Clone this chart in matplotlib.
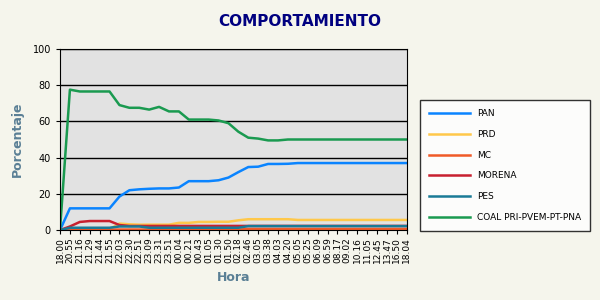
import matplotlib
matplotlib.use('Agg')
import matplotlib.pyplot as plt

horas = ['18.00', '20.55', '21.16', '21.29', '21.44', '21.55', '22.03', '22.30', '22.51',
         '23.09', '23.31', '23.51', '00.04', '00.21', '00.43', '01.05', '01.30', '01.50',
         '02.18', '02.46', '03.05', '03.38', '04.03', '04.20', '05.05', '05.25', '06.09',
         '06.59', '08.17', '09.02', '10.16', '11.05', '12.45', '13.47', '16.50', '18.04']

pan = [0, 12, 12, 12, 12, 12, 18.5, 22, 22.5, 22.8, 23, 23, 23.5, 27, 27, 27, 27.5, 29,
       32, 34.8, 35, 36.5, 36.5, 36.6, 37, 37, 37, 37, 37, 37, 37, 37, 37, 37, 37, 37]
prd = [0, 0.5, 0.5, 0.5, 0.5, 0.5, 3.6, 3.2, 3, 3, 3, 3, 4, 4, 4.5, 4.5, 4.6, 4.6,
       5.4, 6, 6, 6, 6, 6, 5.6, 5.6, 5.6, 5.6, 5.6, 5.6, 5.6, 5.6, 5.6, 5.6, 5.6, 5.6]
mc = [0, 0.3, 0.3, 0.3, 0.3, 0.3, 0.3, 0.3, 0.3, 0.3, 0.3, 0.3, 0.3, 0.3, 0.3, 0.3, 0.3, 0.3,
      0.3, 0.6, 0.6, 0.6, 0.6, 0.6, 0.6, 0.6, 0.6, 0.6, 0.6, 0.6, 0.6, 0.6, 0.6, 0.6, 0.6, 0.6]
morena = [0, 2, 4.5, 5, 5, 5, 2.8, 2.3, 2.3, 2.3, 2.3, 2.3, 2.3, 2.3, 2.3, 2.3, 2.3, 2.3,
          2.3, 2.3, 2.3, 2.3, 2.3, 2.3, 2.3, 2.3, 2.3, 2.3, 2.3, 2.3, 2.3, 2.3, 2.3, 2.3, 2.3, 2.3]
pes = [0, 1.3, 1.3, 1.3, 1.3, 1.3, 2, 2, 2, 1.3, 1.3, 1.3, 1.3, 1.3, 1.3, 1.3, 1.3, 1.3,
       1.3, 2.2, 2.2, 2.2, 2.2, 2.2, 2.2, 2.2, 2.2, 2.2, 2.2, 2.2, 2.2, 2.2, 2.2, 2.2, 2.2, 2.2]
coal = [0, 77.5, 76.5, 76.5, 76.5, 76.5, 69, 67.5, 67.5, 66.5, 68, 65.5, 65.5, 61, 61, 61,
        60.5, 59, 54.3, 51, 50.5, 49.5, 49.5, 50, 50, 50, 50, 50, 50, 50, 50, 50, 50, 50, 50, 50]

series = [('PAN', pan, '#0a84ff'), ('PRD', prd, '#ffc84a'), ('MC', mc, '#f05a28'),
          ('MORENA', morena, '#c8202f'), ('PES', pes, '#1a7a96'),
          ('COAL PRI-PVEM-PT-PNA', coal, '#1a9a50')]

bg = '#f5f5ec'
fig = plt.figure(figsize=(6, 3), dpi=100, facecolor=bg)
ax = fig.add_axes([0.1, 0.233, 0.578, 0.604])
ax.set_facecolor('#e2e2e2')

x = list(range(len(horas)))
for name, vals, col in series:
    ax.plot(x, vals, color=col, lw=1.8, label=name)

ax.set_xlim(0, len(horas) - 1)
ax.set_ylim(0, 100)
ax.set_yticks(range(0, 101, 20))
ax.yaxis.grid(True, color='black', lw=1)
ax.set_axisbelow(True)
ax.set_xticks(x)
ax.set_xticklabels(horas, rotation=90, fontsize=6.5)
ax.tick_params(axis='y', labelsize=7, length=3)
ax.tick_params(axis='x', length=3, pad=2)
for s in ax.spines.values():
    s.set_color('black')

lab_col = '#5a7f95'
ax.set_ylabel('Porcentaje', color=lab_col, fontsize=9, fontweight='bold', labelpad=6)
ax.set_xlabel('Hora', color=lab_col, fontsize=9, fontweight='bold', labelpad=6)
fig.suptitle('COMPORTAMIENTO', color='#000080', fontsize=11, fontweight='bold', x=0.5, y=0.955)

leg = ax.legend(loc='center left', bbox_to_anchor=(1.025, 0.356), frameon=True, fontsize=6.5,
                handlelength=4.5, labelspacing=1.3, borderpad=1.0, fancybox=False, facecolor='white')
leg.get_frame().set_edgecolor('black')

fig.savefig('out.png', dpi=100, facecolor=bg)
